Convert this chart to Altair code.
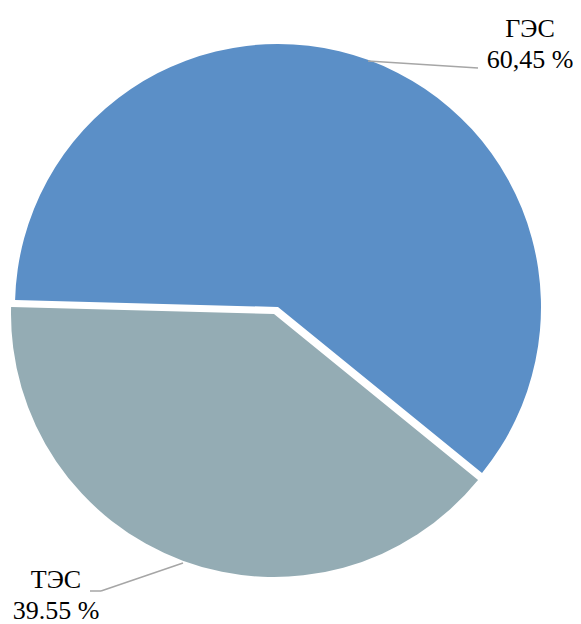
import math
import altair as alt
import pandas as pd

# ---- data ----
categories = ["ГЭС", "ТЭС"]
shares = [60.45, 39.55]
pct_labels = ["60,45 %", "39.55 %"]
order = [0, 1]

# ---- styles ----
colors = ["#5B8FC7", "#94ACB4"]
START = math.radians(271.5)
RADIUS = 263
FONT = "Liberation Serif"

df = pd.DataFrame({"cat": categories, "share": shares, "pct": pct_labels, "ord": order})

base = (
    alt.Chart(df)
    .transform_window(cum="sum(share)", sort=[alt.SortField("ord")], frame=[None, 0])
    .transform_calculate(start="datum.cum - datum.share",
                         lbl="datum.cat + '\\n' + datum.pct")
)

theta_scale = alt.Scale(domain=[0, 100], range=[START, START + 2 * math.pi])
color_scale = alt.Scale(domain=categories, range=colors)


def slice_layer(cat, cx, cy):
    return base.transform_filter(alt.datum.cat == cat).mark_arc(radius=RADIUS).encode(
        theta=alt.Theta("start:Q", scale=theta_scale),
        theta2="cum:Q",
        color=alt.Color("cat:N", scale=color_scale, legend=None),
        x=alt.value(cx),
        y=alt.value(cy),
    )


def label_layer(cat, lx, ly):
    return base.transform_filter(alt.datum.cat == cat).mark_text(
        font=FONT, fontSize=26, lineBreak="\n", lineHeight=31,
        align="center", baseline="alphabetic", color="#000000"
    ).encode(text="lbl:N", x=alt.value(lx), y=alt.value(ly))


def leader(x1, y1, x2, y2):
    return alt.Chart(df).transform_filter(alt.datum.ord == 0).mark_rule(
        color="#A6A6A6", strokeWidth=1.5
    ).encode(x=alt.value(x1), y=alt.value(y1), x2=alt.value(x2), y2=alt.value(y2))


chart = alt.layer(
    slice_layer("ГЭС", 270, 299),
    slice_layer("ТЭС", 266, 306),
    leader(360, 53, 470, 60),
    leader(82, 583, 93, 583),
    leader(93, 583, 175, 555),
    label_layer("ГЭС", 522, 29),
    label_layer("ТЭС", 48, 580),
).properties(
    width=565, height=616, padding=0, autosize="none"
).configure_view(stroke=None)

chart.save("out.html", embed_options={"renderer": "svg", "actions": False})
